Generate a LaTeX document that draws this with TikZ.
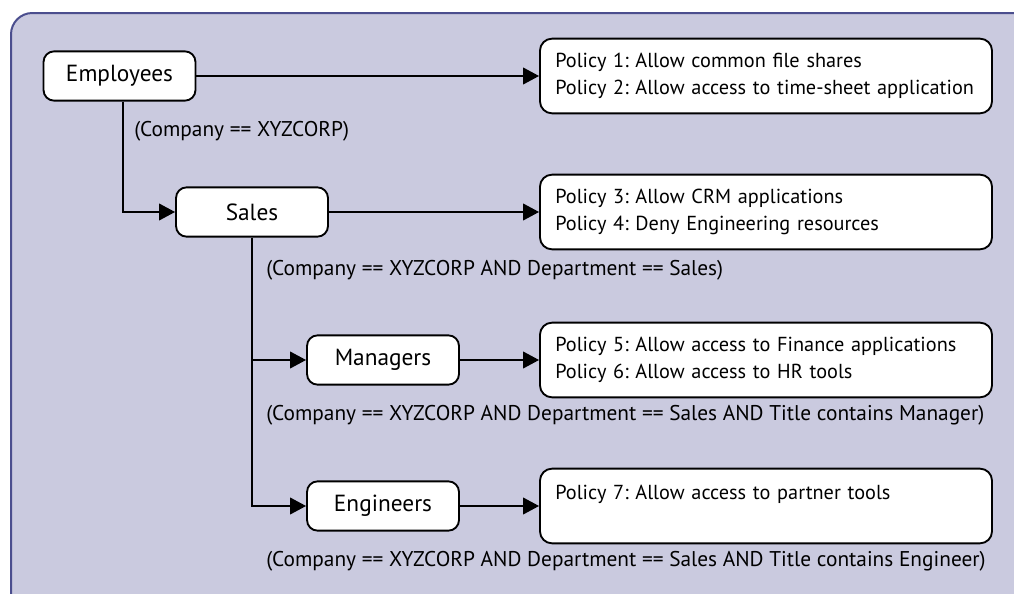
\documentclass[tikz,border=0pt]{standalone}
\usepackage{fontspec}
\setmainfont{PT Sans}
\usetikzlibrary{arrows.meta,positioning,calc}
\definecolor{PanelFill}{HTML}{CACADF}
\definecolor{PanelLine}{HTML}{4B4E8E}
\frenchspacing
\tikzset{
  >={Triangle[length=12pt,width=12.5pt]},
  group/.style={rectangle, rounded corners=8pt, draw=black, line width=1.4pt,
    fill=white, minimum width=114pt, minimum height=37pt, inner sep=0pt,
    font=\fontsize{17.5}{20}\selectfont},
  policy/.style={rectangle, rounded corners=9pt, draw=black, line width=1.4pt,
    fill=white, align=left, text width=316pt, minimum height=56pt,
    inner xsep=11.5pt, inner ysep=0pt, font=\fontsize{15.2}{20}\selectfont},
  rule/.style={anchor=west, inner sep=0pt, font=\fontsize{16}{18}\selectfont},
  flow/.style={draw, ->, line width=1.4pt}
}
\begin{document}
\begin{tikzpicture}[x=0.75pt, y=-0.75pt]
\useasboundingbox (0,0) rectangle (1014,593);
\clip (0,0) rectangle (1014,593);

\draw[fill=PanelFill, draw=PanelLine, line width=1.5pt, rounded corners=16pt]
  (11,13) rectangle (1080,650);

\node[group] (employees) at (119.5,76) {Employees};
\node[group] (sales)     at (252,212)  {Sales};
\node[group] (managers)  at (383,360)  {Managers};
\node[group] (engineers) at (383,506)  {Engineers};

\node[policy] (pol12) at (766,76) {
Policy 1: Allow common file shares\\
Policy 2: Allow access to time-sheet application};
\node[policy] (pol34) at (766,212) {
Policy 3: Allow CRM applications\\
Policy 4: Deny Engineering resources};
\node[policy] (pol56) at (766,360) {
Policy 5: Allow access to Finance applications\\
Policy 6: Allow access to HR tools};
\node[policy] (pol7) at (766,506) {
Policy 7: Allow access to partner tools\\
\mbox{}};

\node[rule] (rule1) at (134,131) {(Company == XYZCORP)};
\node[rule] (rule2) at (266,270) {(Company == XYZCORP AND Department == Sales)};
\node[rule] (rule3) at (266,415)
  {(Company == XYZCORP AND Department == Sales AND Title contains Manager)};
\node[rule] (rule4) at (266,561)
  {(Company == XYZCORP AND Department == Sales AND Title contains Engineer)};

\draw[flow] (employees) -- (pol12);
\draw[flow] (sales)     -- (pol34);
\draw[flow] (managers)  -- (pol56);
\draw[flow] (engineers) -- (pol7);
\draw[flow] ($(employees.south)+(3.5,0)$) |- (sales.west);
\draw[flow] (sales.south) |- (managers.west);
\draw[flow] (sales.south) |- (engineers.west);

\end{tikzpicture}
\end{document}
